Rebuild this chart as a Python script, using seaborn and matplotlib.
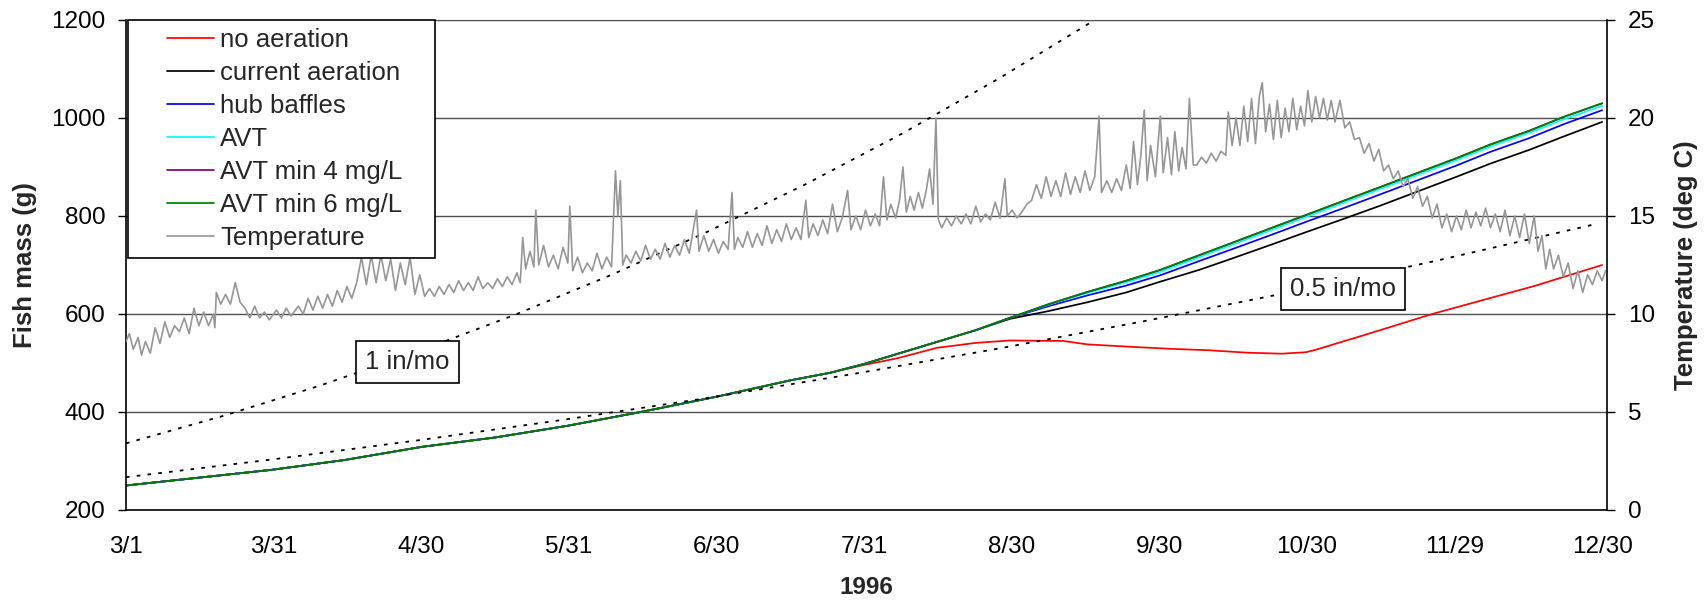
import matplotlib
matplotlib.use("Agg")
import matplotlib.pyplot as plt
from matplotlib.patches import Rectangle
import numpy as np
import seaborn as sns

# days counted from 3/1/1996
mass_day = [0, 15, 30, 45, 61, 76, 91, 106, 122, 137, 145, 152, 160, 167, 175, 182,
            190, 198, 206, 213, 221, 228, 236, 243, 251, 258, 266, 274, 281, 289, 296, 304]
avt6 = [250, 266, 282, 302, 329, 348, 372, 400, 432, 465, 480, 498, 522, 543, 567, 592,
        620, 645, 668, 690, 720, 746, 776, 802, 832, 858, 888, 918, 946, 974, 1002, 1030]
avt4 = avt6
avt = [250, 266, 282, 302, 329, 348, 372, 400, 432, 465, 480, 498, 522, 543, 567, 592,
       619, 643, 665, 686, 716, 742, 772, 798, 828, 854, 884, 914, 942, 970, 997, 1025]
hub = [250, 266, 282, 302, 329, 348, 372, 400, 432, 465, 480, 498, 522, 543, 567, 592,
       616, 638, 658, 679, 708, 733, 762, 788, 817, 843, 873, 903, 931, 959, 987, 1016]
current = [250, 266, 282, 302, 329, 348, 372, 400, 432, 465, 480, 498, 522, 543, 567, 590,
           606, 624, 644, 666, 690, 714, 742, 767, 795, 820, 850, 880, 907, 935, 962, 992]

noaer_day = [0, 15, 30, 45, 61, 76, 91, 106, 122, 137, 145, 152, 159, 167, 175, 182, 193,
             198, 207, 215, 223, 231, 238, 243, 245, 255, 269, 280, 290, 304]
noaer = [250, 266, 282, 302, 329, 348, 372, 400, 432, 465, 480, 496, 510, 531, 541, 546, 545,
         538, 533, 529, 526, 521, 519, 522, 527, 557, 600, 630, 657, 700]

# reference growth curves (1 in/mo and 0.5 in/mo)
g1_day = [0, 20, 40, 60, 80, 100, 120, 140, 160, 180, 200]
g1 = [336, 392, 454, 523, 598, 680, 769, 865, 969, 1082, 1203]
g05_day = [0, 30, 60, 90, 120, 150, 180, 210, 240, 270, 302]
g05 = [267, 303, 342, 384, 429, 478, 530, 586, 645, 709, 782]

temp_day = [0, 0.7, 1.5, 2.5, 3.2, 4, 5, 6, 7, 8, 9, 10, 11, 12, 13, 14, 15, 16, 17, 18, 18.3,
            18.6, 19.5, 20.5, 21.5, 22.5, 23.5, 24.5, 25.5, 26.5, 27.5, 28.5, 29.5, 31, 32, 33, 34,
            35.5, 36.5, 37.5, 38.5, 39.5, 40.5, 41.5, 42.5, 43.5, 44.5, 45.5, 46.5, 47.5, 48.5,
            49.5, 50.5, 51.5, 52.5, 53.5, 54.5, 55.5, 56.5, 57.5, 58.5, 59.5, 60.5, 61.5, 62.5,
            63.5, 64.5, 65.5, 66.5, 67.5, 68.5, 69.5, 70.5, 71.5, 72.5, 73.5, 74.5, 75.5, 76.5,
            77.5, 78.5, 79.5, 80.5, 81.2, 81.7, 82.3, 83.2, 84.0, 84.4, 85, 86, 87, 88, 89, 90,
            91, 91.4, 92, 93, 94, 95, 96, 97, 98, 99, 100, 100.8, 101.3, 101.8, 102.3, 103, 104,
            105, 106, 107, 108, 109, 110, 111, 112, 113, 114, 115, 116, 117.5, 118, 119, 120,
            121, 122, 123, 124, 124.8, 125.3, 126, 127, 128, 129, 130, 131, 132, 133, 134, 135,
            136, 137, 138, 139, 140, 140.6, 141.5, 142.5, 143.5, 144.5, 145.5, 146.5, 147.5,
            148.6, 149.3, 150.3, 151.3, 152.3, 153.3, 154.3, 155.2, 156, 156.7, 157.5, 158.5,
            159.3, 160, 160.7, 161.5, 162.3, 163.2, 164, 164.8, 165.5, 166.2, 166.8, 167.3, 168,
            169, 170, 171, 172, 173, 174, 175, 176, 177, 178, 179, 180, 181, 181.5, 182.5, 183.5,
            184.5, 185.5, 186.5, 187.5, 188.5, 189.5, 190.5, 191.5, 192.5, 193.5, 194.5, 195.5,
            196.5, 197.5, 198.5, 199.5, 200.4, 200.9, 202, 203, 204, 205, 206, 206.8, 207.5,
            208.3, 209, 209.7, 210.3, 211, 212, 213, 213.6, 214.5, 215.3, 216, 216.8, 217.5,
            218.3, 219, 219.8, 220.5, 221.5, 222.5, 223.5, 224.5, 225.5, 226.5, 227, 227.8,
            228.6, 229.4, 230.2, 231, 231.8, 232.6, 233.4, 234, 234.7, 235.5, 236.3, 237.1,
            237.9, 238.7, 239.5, 240.3, 241.1, 241.9, 242.7, 243.4, 244.2, 245, 245.8, 246.6,
            247.4, 248.2, 249, 250, 251, 252, 253, 254, 255, 256, 257, 258, 259, 260, 261, 262,
            263, 264, 265, 266, 267, 268, 269, 270, 271, 272, 273, 274, 275, 276, 277, 278, 279,
            280, 281, 282, 283, 284, 285, 286, 287, 288, 289, 290, 290.8, 291.6, 292.4, 293.2,
            294, 295, 296, 297, 298, 299, 300, 301, 302, 303, 304, 304.7]
temp_c = [8.6, 9.0, 8.2, 8.8, 7.9, 8.6, 8.0, 9.3, 8.5, 9.6, 8.8, 9.4, 9.1, 9.8, 9.0, 10.3, 9.4,
          10.1, 9.4, 10.0, 9.3,
          11.1, 10.5, 11.0, 10.5, 11.6, 10.6, 10.3, 9.8, 10.4, 9.8, 10.1, 9.7, 10.2, 9.8, 10.3, 9.9,
          10.4, 10.0, 10.8, 10.2, 10.9, 10.3, 11.0, 10.4, 11.2, 10.6, 11.4, 10.8, 11.6, 12.9,
          11.5, 13.0, 11.6, 13.0, 11.7, 12.8, 11.2, 12.6, 11.5, 12.9, 11.0, 12.0, 10.9, 11.3,
          10.9, 11.4, 11.0, 11.5, 11.1, 11.7, 11.2, 11.6, 11.2, 11.9, 11.3, 11.6, 11.3, 11.8,
          11.4, 11.9, 11.5, 12.1, 11.6, 13.9, 12.3, 13.2, 12.4, 15.3, 12.5, 13.5, 12.4, 13.0,
          12.3, 13.4, 12.6, 15.5, 12.2, 12.9, 12.1, 12.6, 12.2, 13.1, 12.3, 12.9, 12.4, 17.3,
          15.0, 16.8, 12.5, 13.0, 12.6, 13.2, 12.7, 13.5, 12.8, 13.3, 12.8, 13.6, 12.9, 13.5,
          13.0, 13.8, 13.1, 15.3, 13.2, 14.0, 13.2, 13.8, 13.1, 13.7, 13.3, 16.2, 13.3, 13.9,
          13.4, 14.2, 13.4, 14.1, 13.5, 14.5, 13.6, 14.3, 13.7, 14.6, 13.8, 14.4, 13.8, 15.8,
          13.9, 14.6, 14.0, 14.8, 14.1, 15.6, 14.2, 14.9, 16.3, 14.3, 15.0, 14.3, 15.3, 14.5,
          15.1, 14.5, 17.0, 14.8, 15.6, 14.9, 15.8, 17.5, 15.2, 16.0, 15.3, 16.2, 15.4, 16.3,
          17.4, 15.6, 20.0, 14.8, 14.4, 14.9, 14.5, 15.0, 14.6, 15.1, 14.6, 15.5, 14.7, 15.1,
          14.8, 15.7, 14.9, 16.9, 15.0, 15.3, 14.9, 15.2, 15.6, 15.8, 16.6, 15.9, 17.0, 16.0,
          16.8, 16.0, 17.2, 16.1, 17.0, 16.2, 17.3, 16.3, 17.0, 20.1, 16.2, 16.8, 16.2, 16.9,
          16.3, 17.6, 16.4, 18.8, 16.6, 18.1, 20.4, 16.8, 18.6, 17.0, 20.1, 17.2, 19.0, 17.1,
          19.3, 17.3, 18.5, 17.4, 21.0, 17.6, 17.6, 18.0, 17.7, 18.2, 17.8, 18.3, 18.1, 20.3,
          18.6, 20.0, 18.6, 20.6, 18.8, 21.0, 18.7, 21.1, 21.8, 19.3, 20.7, 18.9, 20.9, 19.0,
          20.5, 19.3, 21.0, 19.4, 20.6, 19.6, 21.4, 19.8, 21.1, 20.0, 21.0, 19.9, 20.9, 19.8,
          20.9, 19.5, 19.8, 18.9, 19.0, 18.2, 18.7, 17.8, 18.4, 17.3, 17.6, 16.9, 17.3, 16.5,
          16.9, 15.9, 16.5, 15.5, 16.0, 14.9, 15.6, 14.4, 15.1, 14.2, 15.0, 14.3, 15.3, 14.4,
          15.2, 14.5, 15.4, 14.4, 15.1, 14.2, 15.3, 14.0, 15.0, 13.9, 15.1, 13.6, 15.0, 13.2,
          14.0, 12.3, 13.3, 12.3, 13.0, 11.9, 12.6, 11.3, 12.2, 11.1, 12.0, 11.5, 12.2, 11.7,
          12.2]

tick_days = np.linspace(0, 304, 11)
tick_labels = ["3/1", "3/31", "4/30", "5/31", "6/30", "7/31", "8/30", "9/30", "10/30", "11/29", "12/30"]

sns.set_style("white")
plt.rcParams["font.family"] = ["Liberation Sans", "DejaVu Sans"]

W, H = 1705, 604
fig = plt.figure(figsize=(W / 100, H / 100), dpi=100)
ax = fig.add_axes([126 / W, 1 - 510 / H, (1607 - 126) / W, (510 - 20) / H])
ax2 = ax.twinx()

lw = 1.25
sns.lineplot(x=noaer_day, y=noaer, ax=ax, color="#FF0000", lw=lw, label="no aeration")
sns.lineplot(x=mass_day, y=current, ax=ax, color="#000000", lw=lw, label="current aeration")
sns.lineplot(x=mass_day, y=hub, ax=ax, color="#0000FF", lw=lw, label="hub baffles")
sns.lineplot(x=mass_day, y=avt, ax=ax, color="#00FFFF", lw=lw, label="AVT")
sns.lineplot(x=mass_day, y=avt4, ax=ax, color="#800080", lw=lw, label="AVT min 4 mg/L")
sns.lineplot(x=mass_day, y=avt6, ax=ax, color="#008000", lw=lw, label="AVT min 6 mg/L")

ax.plot(g1_day, g1, color="black", lw=1.3, ls=(0, (2, 4)))
ax.plot(g05_day, g05, color="black", lw=1.3, ls=(0, (2, 4)))

sns.lineplot(x=temp_day, y=temp_c, ax=ax2, color="#969696", lw=1.2, label="Temperature")

box = dict(boxstyle="square,pad=0.35", fc="white", ec="black", lw=1.2)
ax.text(58, 502, "1 in/mo", fontsize=18.5, ha="center", va="center", bbox=box, zorder=5)
ax.text(250.7, 652, "0.5 in/mo", fontsize=18.5, ha="center", va="center", bbox=box, zorder=5)

ax.set_xlim(0, 305)
ax.set_ylim(200, 1200)
ax2.set_ylim(0, 25)
ax.set_xticks(tick_days)
ax.set_xticklabels(tick_labels)
ax.set_yticks(range(200, 1201, 200))
ax2.set_yticks(range(0, 26, 5))

ax.yaxis.grid(True, color="#505050", lw=1)
ax.xaxis.grid(False)
for s in ["left", "bottom"]:
    ax.spines[s].set_color("black")
    ax.spines[s].set_linewidth(1.2)
ax.spines["top"].set_color("#505050")
ax.spines["right"].set_visible(False)
for s in ["left", "top", "bottom"]:
    ax2.spines[s].set_visible(False)
ax2.spines["right"].set_color("black")
ax2.spines["right"].set_linewidth(1.2)

ax.tick_params(axis="x", direction="out", length=6, width=1, labelsize=17.5, pad=13, colors="black")
ax.tick_params(axis="y", direction="out", length=6, width=1, labelsize=17.5, pad=9, left=True, colors="black")
ax2.tick_params(axis="y", direction="out", length=6, width=1, labelsize=17.5, pad=9, right=True, colors="black")

ax.set_xlabel("1996", fontsize=17.5, fontweight="bold", labelpad=13)
ax.set_ylabel("Fish mass (g)", fontsize=18.5, fontweight="bold", labelpad=10)
ax2.set_ylabel("Temperature (deg C)", fontsize=18.5, fontweight="bold", labelpad=14)

# legend: white box drawn separately so the padding matches the original
frame = Rectangle((128 / W, 1 - 258 / H), (435 - 128) / W, (258 - 20) / H,
                  transform=fig.transFigure, fc="white", ec="black", lw=1.2,
                  clip_on=False, zorder=8)
ax2.add_patch(frame)

h1, l1 = ax.get_legend_handles_labels()
h2, l2 = ax2.get_legend_handles_labels()
ax.get_legend().remove()
ax2.get_legend().remove()
leg = ax2.legend(h1 + h2, l1 + l2, loc="upper left", bbox_to_anchor=(167 / W, 1 - 28 / H),
                 bbox_transform=fig.transFigure, borderaxespad=0, borderpad=0,
                 fontsize=18.5, frameon=False, handlelength=1.83, handletextpad=0.23,
                 labelspacing=0.35)
leg.set_zorder(10)

fig.savefig("out.png", dpi=100)
